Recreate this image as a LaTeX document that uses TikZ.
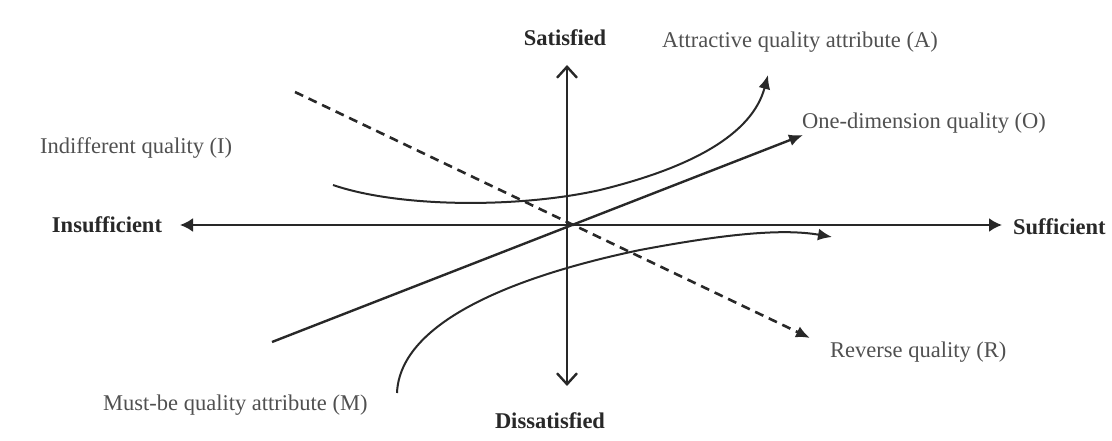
\documentclass[tikz,border=0pt]{standalone}
\usepackage{fontspec}
\setmainfont{Liberation Serif}
\usetikzlibrary{arrows.meta}
\definecolor{inkc}{RGB}{40,40,40}
\definecolor{labelc}{RGB}{80,80,80}

\begin{document}
\begin{tikzpicture}[x=1pt,y=-1pt,>=Latex,
  axis/.style={draw=inkc,line width=2.4pt},
  curve/.style={draw=inkc,line width=2pt,-{Latex[length=14pt,width=12pt]}},
  lab/.style={text=labelc,font=\fontsize{22.5}{26}\selectfont,inner sep=0pt},
  axlab/.style={text=inkc,font=\fontsize{22.5}{26}\selectfont\bfseries,inner sep=0pt}]
\useasboundingbox (0,0) rectangle (1112,441);
% axes
\coordinate (o) at (567,226);
\coordinate (west) at (180,225);
\coordinate (east) at (1002,225);
\coordinate (north) at (567,65);
\coordinate (south) at (567,386);
\draw[axis,{Latex[length=13pt,width=14pt]}-{Latex[length=13pt,width=14pt]}] (west) -- (east);
\draw[axis,{Straight Barb[length=11pt,width=20pt]}-{Straight Barb[length=11pt,width=20pt]}] (south) -- (north);
% axis labels
\node[axlab] (insuff) at (107,225) {Insufficient};
\node[axlab,anchor=west] (suff) at (1013,227) {Sufficient};
\node[axlab] (sat) at (565,38) {Satisfied};
\node[axlab] (dissat) at (550,421) {Dissatisfied};
% quality labels
\node[lab,anchor=west] (attr) at (662,42) {Attractive quality attribute (A)};
\node[lab,anchor=west] (onedim) at (802,123) {One-dimension quality (O)};
\node[lab,anchor=west] (indiff) at (40,148) {Indifferent quality (I)};
\node[lab,anchor=west] (rev) at (830,352) {Reverse quality (R)};
\node[lab,anchor=west] (must) at (103,405) {Must-be quality attribute (M)};
% curve ends
\coordinate (a0) at (333,185);
\coordinate (a1) at (768,75);
\coordinate (o0) at (272,342);
\coordinate (o1) at (803,135);
\coordinate (r0) at (295,92);
\coordinate (r1) at (810,338);
\coordinate (m0) at (397,393);
\coordinate (m1) at (832,237);
% attractive
\draw[curve] (a0) .. controls (400,208) and (520,208) .. (600,190)
  .. controls (690,168) and (752,135) .. (a1);
% one-dimension
\draw[curve,line width=2.4pt] (o0) -- (o1);
% reverse
\draw[curve,line width=2.6pt,dash pattern=on 9pt off 6pt] (r0) -- (r1);
% must-be
\draw[curve] (m0) .. controls (400,320) and (520,275) .. (640,250)
  .. controls (720,235) and (780,228) .. (m1);
\end{tikzpicture}
\end{document}
